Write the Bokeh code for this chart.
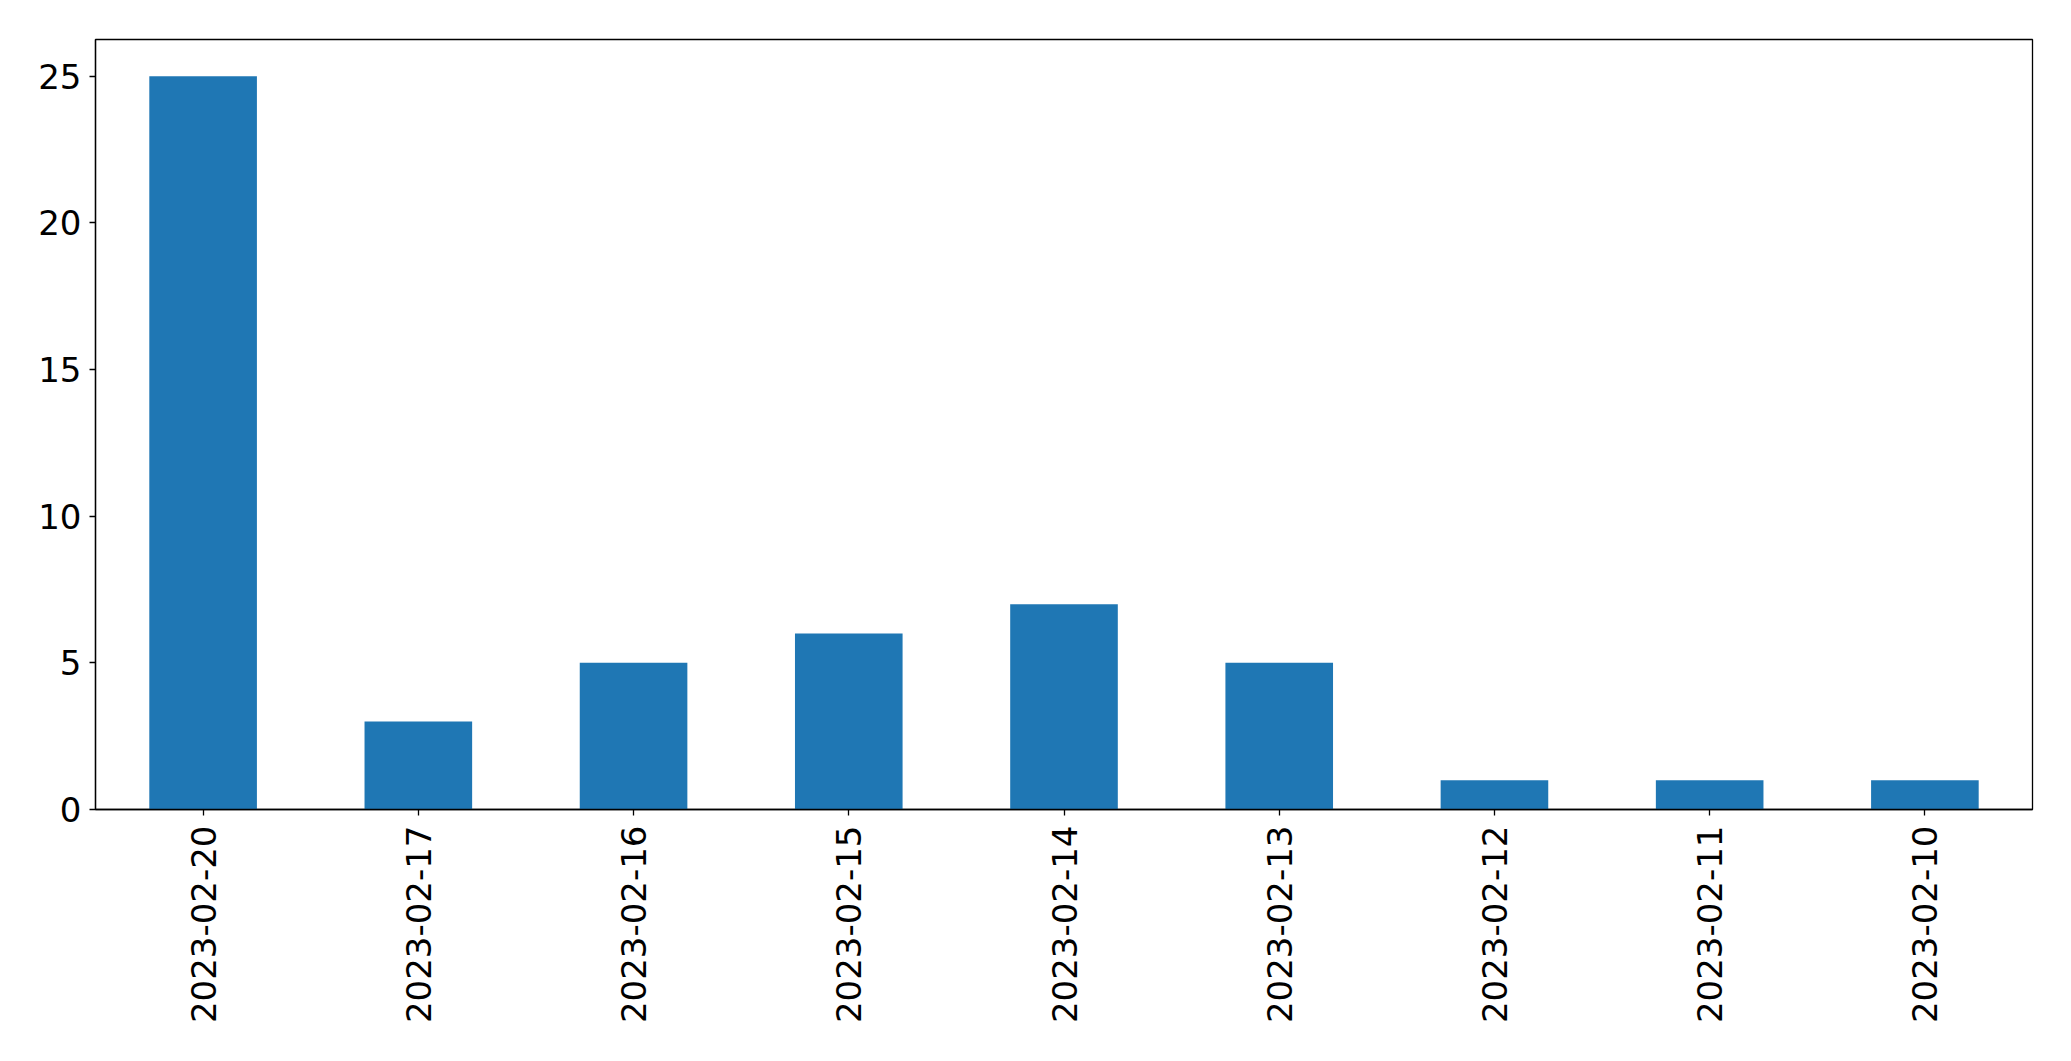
import math
from bokeh.plotting import figure
from bokeh.models import FactorRange, Range1d, FixedTicker, ColumnDataSource
from bokeh.embed import file_html
from bokeh.resources import INLINE

dates = ["2023-02-20", "2023-02-17", "2023-02-16", "2023-02-15", "2023-02-14",
         "2023-02-13", "2023-02-12", "2023-02-11", "2023-02-10"]
counts = [25, 3, 5, 6, 7, 5, 1, 1, 1]
y_ticks = [0, 5, 10, 15, 20, 25]

src = ColumnDataSource(dict(date=dates, count=counts))

p = figure(width=2063, height=1053, output_backend="svg", toolbar_location=None,
           x_range=FactorRange(factors=dates, range_padding=0),
           y_range=Range1d(0, 26.25),
           min_border_left=95, min_border_right=31, min_border_top=39, min_border_bottom=244)

p.vbar(x="date", top="count", width=0.5, source=src, color="#1f77b4", line_color=None)

p.xgrid.visible = False
p.ygrid.visible = False
p.outline_line_color = "black"
p.outline_line_width = 1.3
p.background_fill_color = "white"
p.border_fill_color = "white"

for ax in (p.xaxis[0], p.yaxis[0]):
    ax.axis_line_color = "black"
    ax.axis_line_width = 1.3
    ax.major_tick_line_color = "black"
    ax.major_tick_line_width = 1.3
    ax.major_tick_out = 6
    ax.major_tick_in = 0
    ax.minor_tick_line_color = None
    ax.major_label_text_color = "black"
    ax.major_label_text_font = "DejaVu Sans"
    ax.major_label_text_font_size = "34px"

p.yaxis[0].ticker = FixedTicker(ticks=y_ticks)
p.yaxis[0].major_label_standoff = 8
p.xaxis[0].major_label_orientation = math.pi / 2
p.xaxis[0].major_label_standoff = 10

open("out.html", "w").write(file_html(p, INLINE))
